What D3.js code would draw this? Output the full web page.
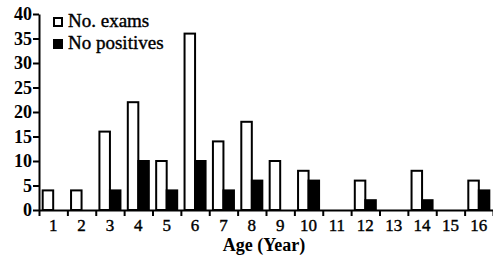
<!DOCTYPE html>
<html>
<head>
<meta charset="utf-8">
<script src="https://cdn.jsdelivr.net/npm/d3@7"></script>
<style>
  body { margin: 0; background: #fff; }
  svg { display: block; }
  svg text { font-family: "Liberation Serif", "Times New Roman", Times, serif; fill: #000; }
</style>
</head>
<body>
<div id="chart"></div>
<script>
const ages = ["1", "2", "3", "4", "5", "6", "7", "8", "9", "10", "11", "12", "13", "14", "15", "16"];
const exams = [4, 4, 16, 22, 10, 36, 14, 18, 10, 8, 0, 6, 0, 8, 0, 6];
const positives = [0, 0, 4, 10, 4, 10, 4, 6, 0, 6, 0, 2, 0, 2, 0, 4];
const seriesNames = ["No. exams", "No positives"];
const yTicks = [0, 5, 10, 15, 20, 25, 30, 35, 40];

const W = 493, H = 260;
const margin = { left: 39, right: 493, top: 14, bottom: 210 };

const svg = d3.select("#chart").append("svg").attr("width", W).attr("height", H);

const x0 = d3.scaleBand().domain(ages).range([margin.left, margin.right]).padding(0);
const x1 = d3.scaleBand().domain(seriesNames).range([0, x0.bandwidth()])
  .paddingInner(0).paddingOuter(0.35);
const y = d3.scaleLinear().domain([0, 40]).range([margin.bottom, margin.top]);
// category boundaries for the tick marks
const xb = d3.scaleLinear().domain([0, ages.length]).range([margin.left, margin.right]);

const rows = ages.map((a, i) => ({ age: a, vals: [exams[i], positives[i]] }));

// bars
const groups = svg.selectAll("g.age").data(rows).enter().append("g")
  .attr("class", "age")
  .attr("transform", (d) => `translate(${x0(d.age)},0)`);

groups.selectAll("rect")
  .data((d) => d.vals.map((v, k) => ({ s: seriesNames[k], v })).filter((b) => b.v > 0))
  .enter().append("rect")
  .attr("x", (d) => x1(d.s))
  .attr("y", (d) => y(d.v))
  .attr("width", x1.bandwidth())
  .attr("height", (d) => y(0) - y(d.v))
  .attr("fill", (d) => (d.s === seriesNames[0] ? "#fff" : "#000"))
  .attr("stroke", "#000")
  .attr("stroke-width", 2);

// y axis
const yAxis = svg.append("g")
  .attr("transform", `translate(${margin.left},0)`)
  .call(d3.axisLeft(y).tickValues(yTicks).tickSize(6).tickPadding(1).tickSizeOuter(0));
yAxis.attr("font-family", null);
yAxis.select(".domain").attr("stroke-width", 2);
yAxis.selectAll(".tick line").attr("stroke-width", 2);
yAxis.selectAll(".tick text")
  .style("font-size", "18px").style("font-weight", "bold");

// x axis: boundary ticks
const xTickAxis = svg.append("g")
  .attr("transform", `translate(0,${margin.bottom})`)
  .call(d3.axisBottom(xb).tickValues(d3.range(0, ages.length + 1)).tickFormat("").tickSize(6).tickSizeOuter(0));
xTickAxis.select(".domain").attr("stroke-width", 2);
xTickAxis.selectAll(".tick line").attr("stroke-width", 2);

// x axis: labels
const xLabAxis = svg.append("g")
  .attr("transform", `translate(0,${margin.bottom})`)
  .call(d3.axisBottom(x0).tickSize(0).tickPadding(9));
xLabAxis.attr("font-family", null);
xLabAxis.select(".domain").remove();
xLabAxis.selectAll(".tick text")
  .style("font-size", "17px")
  .style("stroke", "#000").style("stroke-width", "0.4px");

// axis title
svg.append("text")
  .attr("x", 264)
  .attr("y", 251)
  .attr("text-anchor", "middle")
  .style("font-size", "18px")
  .style("font-weight", "bold")
  .text("Age (Year)");

// legend
const legend = svg.append("g").attr("transform", "translate(54,18)");
seriesNames.forEach((name, i) => {
  legend.append("rect")
    .attr("x", 0).attr("y", i * 22)
    .attr("width", 8).attr("height", 8)
    .attr("fill", i === 0 ? "#fff" : "#000")
    .attr("stroke", "#000").attr("stroke-width", 2);
  legend.append("text")
    .attr("x", 14).attr("y", i * 22 + 9)
    .style("font-size", "19px")
    .style("stroke", "#000").style("stroke-width", "0.4px")
    .text(name);
});
</script>
</body>
</html>
